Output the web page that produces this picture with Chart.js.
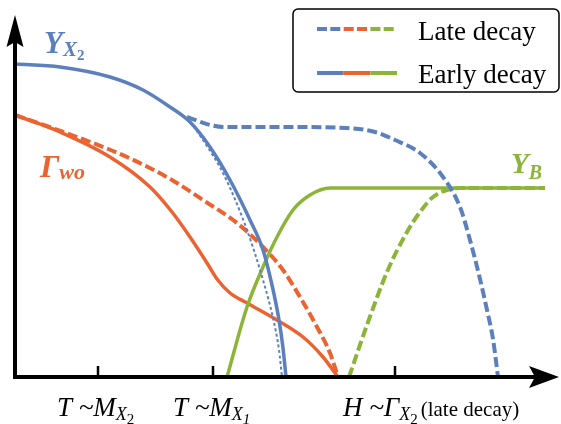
<!DOCTYPE html>
<html>
<head>
<meta charset="utf-8">
<script src="https://cdn.jsdelivr.net/npm/chart.js@4/dist/chart.umd.min.js"></script>
<style>
html,body{margin:0;padding:0;background:#fff;}
canvas{display:block;}
</style>
</head>
<body>
<canvas id="c" width="561" height="424"></canvas>
<script>
// ---- data (arbitrary schematic units: x along the time/temperature axis, y = height above the axis) ----
const blueEarlyX  = [15, 60, 110, 143, 170, 190, 210, 230, 250, 263, 272, 279, 283, 286];
const blueEarlyY  = [313, 310, 300, 287, 270, 255, 230, 197, 157, 127, 92, 57, 29, 0];
const blueDotX    = [187, 203, 224, 247, 263, 273, 279, 282];
const blueDotY    = [260, 237, 202, 147, 97, 59, 27, 0];
const blueLateX   = [187, 198, 210, 223, 250, 290, 347, 375, 395, 420, 443, 460, 470, 480, 487, 493, 498];
const blueLateY   = [260, 256, 252, 250, 250, 250, 249, 245, 237, 224, 200, 170, 137, 98, 67, 38, 0];
const orangeEarlyX = [15, 60, 110, 150, 172, 190, 207, 217, 230, 247, 277, 303, 323, 338];
const orangeEarlyY = [262, 245, 220, 190, 165, 140, 114, 98, 84, 74, 57, 40, 20, 0];
const orangeLateX  = [15, 77, 127, 172, 203, 237, 263, 283, 300, 317, 330, 338];
const orangeLateY  = [262, 240, 220, 197, 177, 154, 130, 107, 80, 50, 24, 0];
const greenEarlyX = [227, 247, 263, 277, 293, 310, 330, 370, 545];
const greenEarlyY = [0, 70, 110, 140, 167, 182, 189, 189, 189];
const greenLateX  = [349, 367, 387, 407, 420, 433, 447, 460, 545];
const greenLateY  = [0, 52, 105, 145, 165, 180, 187, 189, 189];
const tickValues  = [98, 213, 395];
const legendLabels = ['Late decay', 'Early decay'];

const BLUE = '#5b80bd', ORANGE = '#ec6332', GREEN = '#8db43a';
const SERIF = '"Liberation Serif", "DejaVu Serif", serif';

function pts(xs, ys){ return xs.map((x,i)=>({x:x, y:ys[i]})); }
function ds(xs, ys, color, dash, width, order){
  return {data: pts(xs, ys), borderColor: color, borderWidth: width, borderDash: dash,
          pointRadius: 0, fill: false, cubicInterpolationMode: 'monotone', order: order, clip: false};
}

function runs(ctx, x, y, list){
  let cx = x;
  list.forEach(r => {
    ctx.font = r.f;
    ctx.fillText(r.t, cx, y + (r.dy || 0));
    cx += ctx.measureText(r.t).width + (r.gap || 0);
  });
}

const decor = {
  id: 'decor',
  afterDatasetsDraw(chart){
    const ctx = chart.ctx, xs = chart.scales.x, ys = chart.scales.y;
    const x0 = xs.getPixelForValue(xs.min), y0 = ys.getPixelForValue(0);
    const yTop = ys.getPixelForValue(ys.max), xEnd = xs.getPixelForValue(xs.max);
    ctx.save();
    ctx.strokeStyle = '#000'; ctx.fillStyle = '#000';
    ctx.lineWidth = 4; ctx.lineCap = 'butt';
    // y axis
    ctx.beginPath(); ctx.moveTo(x0, y0 + 2); ctx.lineTo(x0, yTop + 22); ctx.stroke();
    ctx.beginPath(); ctx.moveTo(x0, yTop - 5); ctx.lineTo(x0 - 8.5, yTop + 27);
    ctx.lineTo(x0, yTop + 22); ctx.lineTo(x0 + 8.5, yTop + 27); ctx.closePath(); ctx.fill();
    // x axis
    ctx.beginPath(); ctx.moveTo(x0 - 2, y0); ctx.lineTo(xEnd - 8, y0); ctx.stroke();
    ctx.beginPath(); ctx.moveTo(xEnd + 14, y0); ctx.lineTo(xEnd - 16, y0 - 11);
    ctx.lineTo(xEnd - 10, y0); ctx.lineTo(xEnd - 16, y0 + 11); ctx.closePath(); ctx.fill();
    // ticks
    ctx.lineWidth = 2.5;
    tickValues.forEach(v => {
      const px = xs.getPixelForValue(v);
      ctx.beginPath(); ctx.moveTo(px, y0); ctx.lineTo(px, y0 - 11); ctx.stroke();
    });
    // tick labels
    ctx.textBaseline = 'alphabetic'; ctx.textAlign = 'left';
    const it = 'italic 27px ' + SERIF, itS = 'italic 18px ' + SERIF, sub = '15px ' + SERIF;
    const by = y0 + 39;
    runs(ctx, xs.getPixelForValue(tickValues[0]) - 41, by,
      [{t:'T ~M', f:it}, {t:'X', f:itS, dy:4}, {t:'2', f:sub, dy:8}]);
    runs(ctx, xs.getPixelForValue(tickValues[1]) - 40, by,
      [{t:'T ~M', f:it}, {t:'X', f:itS, dy:4}, {t:'1', f:'italic 15px ' + SERIF, dy:8}]);
    runs(ctx, xs.getPixelForValue(tickValues[2]) - 52, by,
      [{t:'H ~Γ', f:it}, {t:'X', f:itS, dy:4}, {t:'2', f:sub, dy:8, gap:3}, {t:'(late decay)', f:'21px ' + SERIF}]);
    // curve labels
    ctx.fillStyle = BLUE;
    runs(ctx, 44, 53, [{t:'Y', f:'bold italic 31px ' + SERIF}, {t:'X', f:'bold italic 21px ' + SERIF, dy:3}, {t:'2', f:'bold 15px ' + SERIF, dy:7}]);
    ctx.fillStyle = ORANGE;
    runs(ctx, 40, 177, [{t:'Γ', f:'bold italic 32px ' + SERIF}, {t:'wo', f:'bold italic 22px ' + SERIF, dy:2}]);
    ctx.fillStyle = GREEN;
    runs(ctx, 511, 173, [{t:'Y', f:'bold italic 29px ' + SERIF}, {t:'B', f:'bold italic 20px ' + SERIF, dy:6}]);
    // legend
    const lx = 293, ly = 9, lw = 266, lh = 83;
    ctx.lineWidth = 1.5; ctx.strokeStyle = '#000';
    ctx.beginPath(); ctx.roundRect(lx, ly, lw, lh, 5); ctx.stroke();
    const sx = 317, seg = 26.7;
    [BLUE, ORANGE, GREEN].forEach((c, i) => {
      ctx.strokeStyle = c; ctx.lineWidth = 4;
      ctx.setLineDash([10, 3.3]);
      ctx.beginPath(); ctx.moveTo(sx + i*seg, 29); ctx.lineTo(sx + (i+1)*seg - 3, 29); ctx.stroke();
      ctx.setLineDash([]);
      ctx.beginPath(); ctx.moveTo(sx + i*seg, 73); ctx.lineTo(sx + (i+1)*seg, 73); ctx.stroke();
    });
    ctx.fillStyle = '#000'; ctx.font = '27px ' + SERIF;
    ctx.fillText(legendLabels[0], 418, 40);
    ctx.fillText(legendLabels[1], 418, 83);
    ctx.restore();
  }
};

new Chart(document.getElementById('c'), {
  type: 'line',
  data: {
    datasets: [
      ds(orangeLateX, orangeLateY, ORANGE, [10, 4], 4, 6),
      ds(orangeEarlyX, orangeEarlyY, ORANGE, [], 3.5, 5),
      ds(greenLateX, greenLateY, GREEN, [10, 4], 4, 4),
      ds(greenEarlyX, greenEarlyY, GREEN, [], 3.5, 3),
      ds(blueDotX, blueDotY, BLUE, [3, 2.5], 2, 2),
      ds(blueEarlyX, blueEarlyY, BLUE, [], 3.5, 1),
      ds(blueLateX, blueLateY, BLUE, [10, 4], 4, 0)
    ]
  },
  options: {
    responsive: false,
    animation: false,
    layout: {padding: {left: 15, right: 16, top: 20, bottom: 47}},
    plugins: {legend: {display: false}, tooltip: {enabled: false}},
    scales: {
      x: {type: 'linear', min: 15, max: 545, display: false},
      y: {type: 'linear', min: 0, max: 357, display: false}
    }
  },
  plugins: [decor]
});
</script>
</body>
</html>
